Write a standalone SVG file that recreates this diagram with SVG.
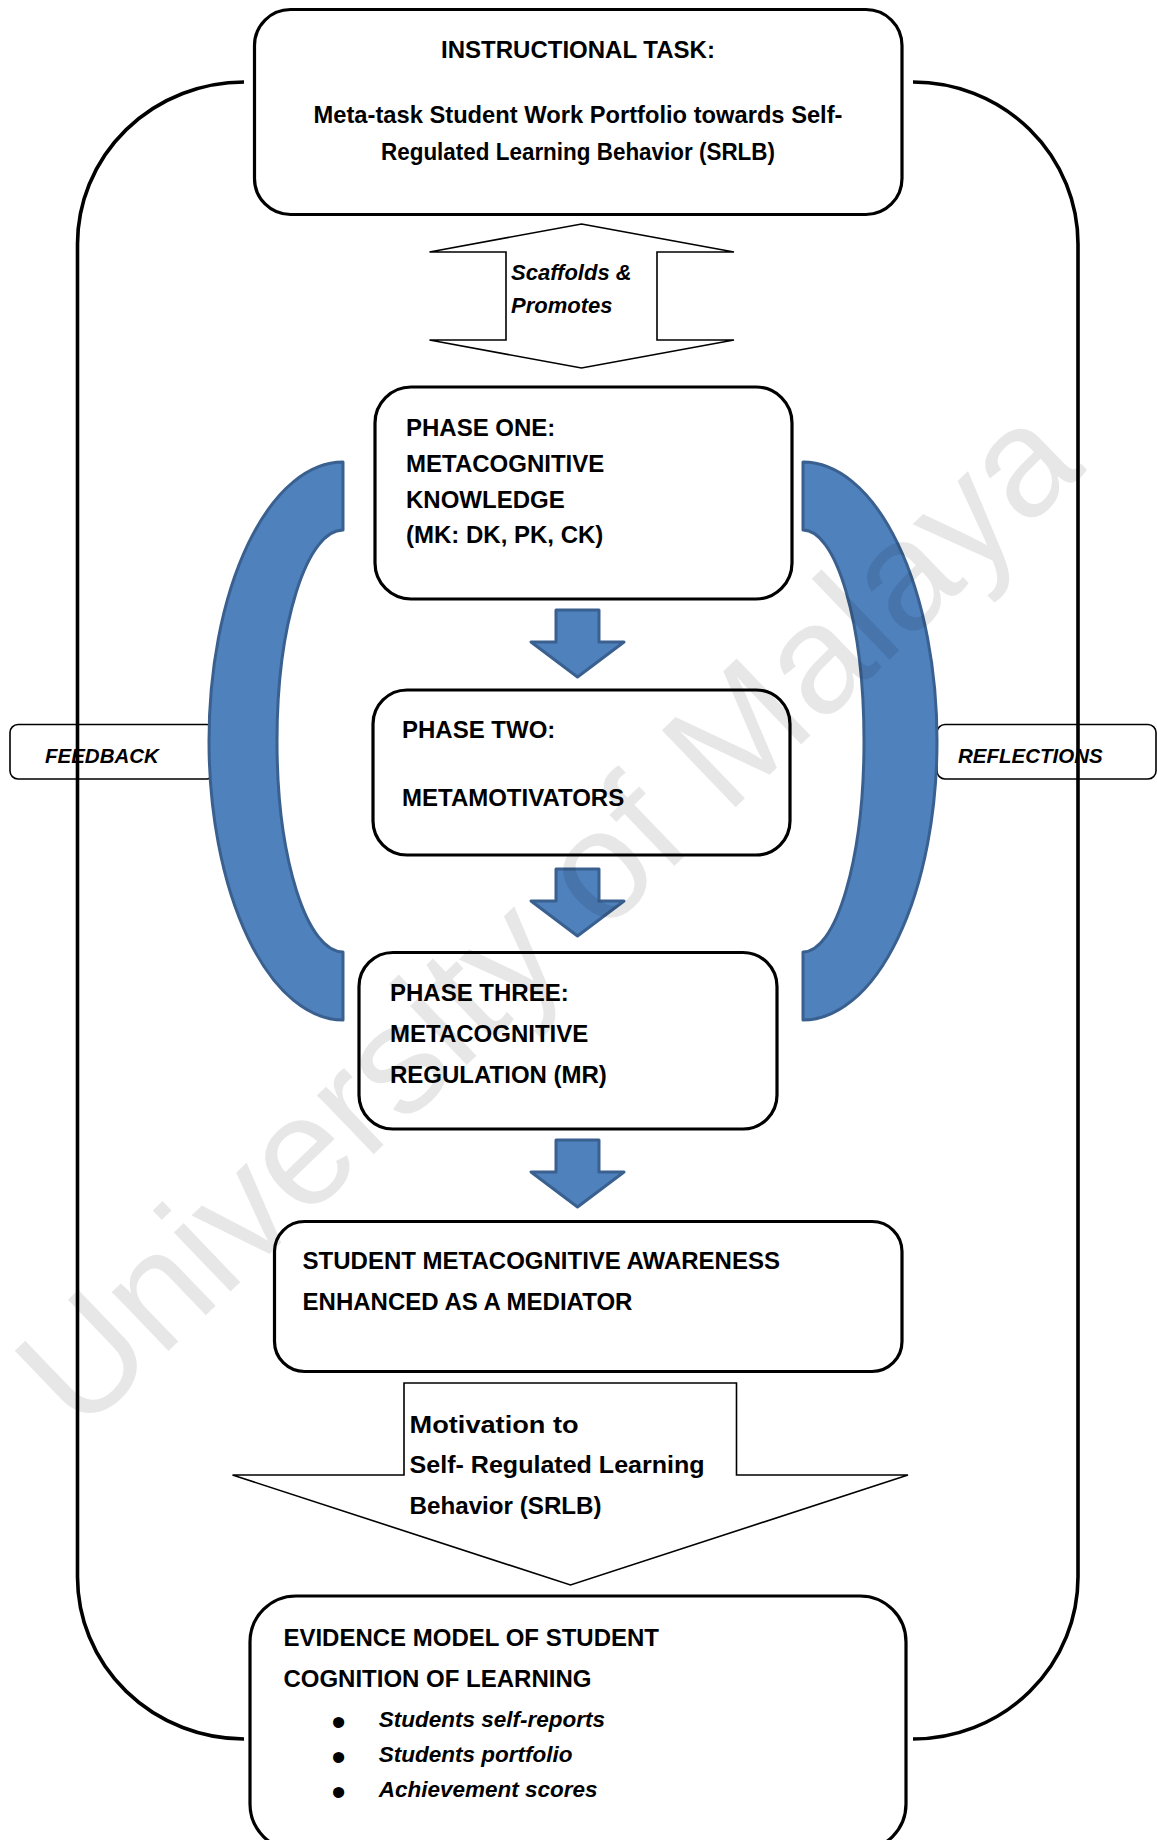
<svg xmlns="http://www.w3.org/2000/svg" width="1157" height="1840" viewBox="0 0 1157 1840">
  <style>
    .box { fill: #ffffff; stroke: #000000; stroke-width: 3.2; }
    .tag { fill: #ffffff; stroke: #000000; stroke-width: 1.6; }
    .loop { fill: none; stroke: #000000; stroke-width: 3.6; }
    .outline { fill: #ffffff; stroke: #000000; stroke-width: 1.6; stroke-linejoin: miter; }
    .blue { fill: #4F81BD; stroke: #3A6090; stroke-width: 3; stroke-linejoin: round; }
    .t { font-family: "Liberation Sans", Arial, sans-serif; font-weight: bold; font-size: 24px; fill: #000000; }
    .ti { font-family: "Liberation Sans", Arial, sans-serif; font-weight: bold; font-style: italic; fill: #000000; }
    .dot { font-family: "Liberation Sans", Arial, sans-serif; font-weight: bold; font-size: 32px; fill: #000000; stroke: #000000; stroke-width: 2; }
    .mid { text-anchor: middle; }
    .mark { font-family: "Liberation Sans", Arial, sans-serif; font-size: 155px; fill: #000000; fill-opacity: 0.095; }
  </style>
  <defs>
    <polygon id="down" points="556,0 599,0 599,32 624,32 577.5,67 531,32 556,32"/>
  </defs>

  <rect width="1157" height="1840" fill="#ffffff"/>

  <!-- side tags, drawn under the loop and the blue arcs -->
  <g id="feedback">
    <rect class="tag" x="10" y="724.5" width="205" height="54.5" rx="8"/>
    <text class="ti" x="45" y="763" font-size="20.5">FEEDBACK</text>
  </g>
  <g id="reflections">
    <rect class="tag" x="937" y="724.5" width="219" height="54.5" rx="8"/>
    <text class="ti" x="958" y="763" font-size="20.5">REFLECTIONS</text>
  </g>

  <!-- connectors: outer loop, scaffold arrow, block arrows, feedback arcs -->
  <g id="connectors">
    <path class="loop" d="M244,82 A167,162 0 0 0 77.5,244 L77.5,1577 A167,162 0 0 0 244,1739"/>
    <path class="loop" d="M913,82 A165,162 0 0 1 1078,244 L1078,1577 A165,162 0 0 1 913,1739"/>

    <polygon class="outline" points="581.5,224 734,252 657,252 657,340 734,340 581.5,368 429.5,340 506,340 506,252 429.5,252"/>
    <text class="ti" x="511" y="280" font-size="22">Scaffolds &amp;</text>
    <text class="ti" x="511" y="312.5" font-size="22">Promotes</text>

    <path class="blue" d="M343,462 A134,279 0 0 0 343,1020 L343,952 A66,211 0 0 1 343,530 Z"/>
    <path class="blue" d="M803,462 A134,279 0 0 1 803,1020 L803,952 A61,211 0 0 0 803,530 Z"/>

    <use href="#down" class="blue" x="0" y="610"/>
    <use href="#down" class="blue" x="0" y="869"/>
    <use href="#down" class="blue" x="0" y="1140"/>

    <polygon class="outline" points="404,1383 736.5,1383 736.5,1475 908,1475 570.5,1585 232.5,1475 404,1475"/>
    <text class="t" x="409.6" y="1432.7" font-size="25" textLength="169" lengthAdjust="spacingAndGlyphs">Motivation to</text>
    <text class="t" x="409.6" y="1473.2" font-size="25" textLength="295" lengthAdjust="spacingAndGlyphs">Self- Regulated Learning</text>
    <text class="t" x="409.6" y="1513.5" font-size="25" textLength="192" lengthAdjust="spacingAndGlyphs">Behavior (SRLB)</text>
  </g>

  <g id="instructional-task">
    <rect class="box" x="254.5" y="9.5" width="647.5" height="205" rx="36"/>
    <text class="t mid" x="578" y="57.5">INSTRUCTIONAL TASK:</text>
    <text class="t mid" x="578" y="123.3" textLength="529" lengthAdjust="spacingAndGlyphs">Meta-task Student Work Portfolio towards Self-</text>
    <text class="t mid" x="578" y="160.3" textLength="394" lengthAdjust="spacingAndGlyphs">Regulated Learning Behavior (SRLB)</text>
  </g>

  <g id="phase-one">
    <rect class="box" x="375" y="387" width="417" height="212" rx="36"/>
    <text class="t" x="406" y="436.2">PHASE ONE:</text>
    <text class="t" x="406" y="472.2">METACOGNITIVE</text>
    <text class="t" x="406" y="508.2">KNOWLEDGE</text>
    <text class="t" x="406" y="543.4">(MK: DK, PK, CK)</text>
  </g>

  <g id="phase-two">
    <rect class="box" x="373" y="690" width="417" height="165" rx="34"/>
    <text class="t" x="402" y="737.8">PHASE TWO:</text>
    <text class="t" x="402" y="805.9">METAMOTIVATORS</text>
  </g>

  <g id="phase-three">
    <rect class="box" x="359" y="952.5" width="418" height="176.5" rx="34"/>
    <text class="t" x="390" y="1001">PHASE THREE:</text>
    <text class="t" x="390" y="1041.6">METACOGNITIVE</text>
    <text class="t" x="390" y="1082.9">REGULATION (MR)</text>
  </g>

  <g id="awareness">
    <rect class="box" x="274.5" y="1221.5" width="627.5" height="150" rx="30"/>
    <text class="t" x="302.6" y="1268.9" font-size="24.5">STUDENT METACOGNITIVE AWARENESS</text>
    <text class="t" x="302.6" y="1310.2" font-size="24.5">ENHANCED AS A MEDIATOR</text>
  </g>

  <g id="evidence-model">
    <rect class="box" x="250" y="1596" width="656" height="254" rx="46"/>
    <text class="t" x="283.4" y="1646">EVIDENCE MODEL OF STUDENT</text>
    <text class="t" x="283.4" y="1686.7">COGNITION OF LEARNING</text>
    <text class="dot" x="333" y="1732.5">•</text>
    <text class="dot" x="333" y="1767.5">•</text>
    <text class="dot" x="333" y="1802.5">•</text>
    <text class="ti" x="378.7" y="1726.7" font-size="22.5">Students self-reports</text>
    <text class="ti" x="378.7" y="1761.7" font-size="22.5">Students portfolio</text>
    <text class="ti" x="378.7" y="1796.7" font-size="22.5">Achievement scores</text>
  </g>

  <!-- repository watermark over the page -->
  <text class="mark" transform="translate(80,1436) rotate(-43.8)">University of Malaya</text>
</svg>
